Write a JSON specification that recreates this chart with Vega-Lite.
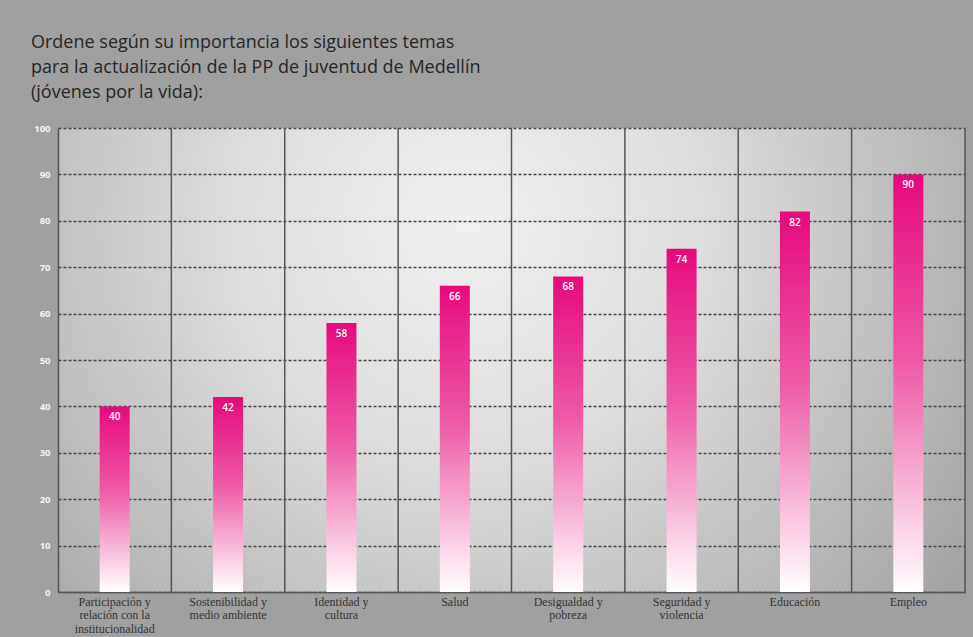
{
  "$schema": "https://vega.github.io/schema/vega-lite/v6.json",
  "width": 907,
  "height": 464,
  "autosize": {"type": "none"},
  "padding": {"left": 58, "top": 128, "right": 8, "bottom": 45},
  "background": "#a0a0a0",
  "title": {
    "text": ["Ordene según su importancia los siguientes temas", "para la actualización de la PP de juventud de Medellín", "(jóvenes por la vida):"],
    "anchor": "start",
    "frame": "group",
    "dx": -27,
    "offset": 21,
    "font": "Open Sans",
    "fontSize": 18,
    "fontWeight": 500,
    "color": "#262626",
    "lineHeight": 25
  },
  "data": {
    "values": [
      {"tema": "Participación y relación con la institucionalidad", "valor": 40},
      {"tema": "Sostenibilidad y medio ambiente", "valor": 42},
      {"tema": "Identidad y cultura", "valor": 58},
      {"tema": "Salud", "valor": 66},
      {"tema": "Desigualdad y pobreza", "valor": 68},
      {"tema": "Seguridad y violencia", "valor": 74},
      {"tema": "Educación", "valor": 82},
      {"tema": "Empleo", "valor": 90}
    ]
  },
  "encoding": {
    "x": {
      "field": "tema",
      "type": "nominal",
      "sort": null,
      "scale": {"paddingInner": 0, "paddingOuter": 0},
      "axis": {
        "title": null,
        "labelAngle": 0,
        "ticks": false,
        "grid": false,
        "domain": true,
        "domainColor": "#555555",
        "domainWidth": 1.5,
        "labelFont": "Liberation Serif",
        "labelFontSize": 12,
        "labelColor": "#333333",
        "labelPadding": 4,
        "labelBaseline": "top",
        "labelLineHeight": 13.5,
        "labelExpr": "datum.label == 'Participación y relación con la institucionalidad' ? ['Participación y','relación con la','institucionalidad'] : datum.label == 'Sostenibilidad y medio ambiente' ? ['Sostenibilidad y','medio ambiente'] : datum.label == 'Identidad y cultura' ? ['Identidad y','cultura'] : datum.label == 'Desigualdad y pobreza' ? ['Desigualdad y','pobreza'] : datum.label == 'Seguridad y violencia' ? ['Seguridad y','violencia'] : datum.label"
      }
    }
  },
  "layer": [
    {
      "mark": {"type": "rule", "color": "#555555", "strokeWidth": 1.5},
      "encoding": {
        "x": {"field": "tema", "type": "nominal", "sort": null, "bandPosition": 1}
      }
    },
    {
      "mark": {
        "type": "bar",
        "width": 30,
        "color": {
          "gradient": "linear",
          "x1": 0, "y1": 0, "x2": 0, "y2": 1,
          "stops": [
            {"offset": 0, "color": "#e6097c"},
            {"offset": 0.45, "color": "#ee5aa5"},
            {"offset": 0.75, "color": "#f7b5d6"},
            {"offset": 1, "color": "#ffffff"}
          ]
        }
      },
      "encoding": {
        "y": {
          "field": "valor",
          "type": "quantitative",
          "scale": {"domain": [0, 100], "nice": false},
          "axis": {
            "title": null,
            "values": [0, 10, 20, 30, 40, 50, 60, 70, 80, 90, 100],
            "grid": true,
            "gridDash": [3, 2],
            "gridColor": "#444444",
            "gridWidth": 1.3,
            "domain": true,
            "domainColor": "#555555",
            "domainWidth": 1.5,
            "ticks": false,
            "labelPadding": 8,
            "labelColor": "#f5f5f5",
            "labelFont": "Open Sans",
            "labelFontSize": 9.5,
            "labelFontWeight": "bold"
          }
        }
      }
    },
    {
      "mark": {"type": "text", "baseline": "top", "dy": 6, "color": "#ffffff", "font": "Open Sans", "fontSize": 10, "fontWeight": 600},
      "encoding": {
        "y": {"field": "valor", "type": "quantitative"},
        "text": {"field": "valor", "type": "quantitative"}
      }
    }
  ],
  "config": {
    "view": {
      "stroke": null,
      "fill": {
        "gradient": "radial",
        "x1": 0.45, "y1": 0.35, "r1": 0,
        "x2": 0.45, "y2": 0.35, "r2": 0.75,
        "stops": [
          {"offset": 0, "color": "#f0f0f0"},
          {"offset": 0.35, "color": "#dddddd"},
          {"offset": 1, "color": "#989898"}
        ]
      }
    }
  }
}
